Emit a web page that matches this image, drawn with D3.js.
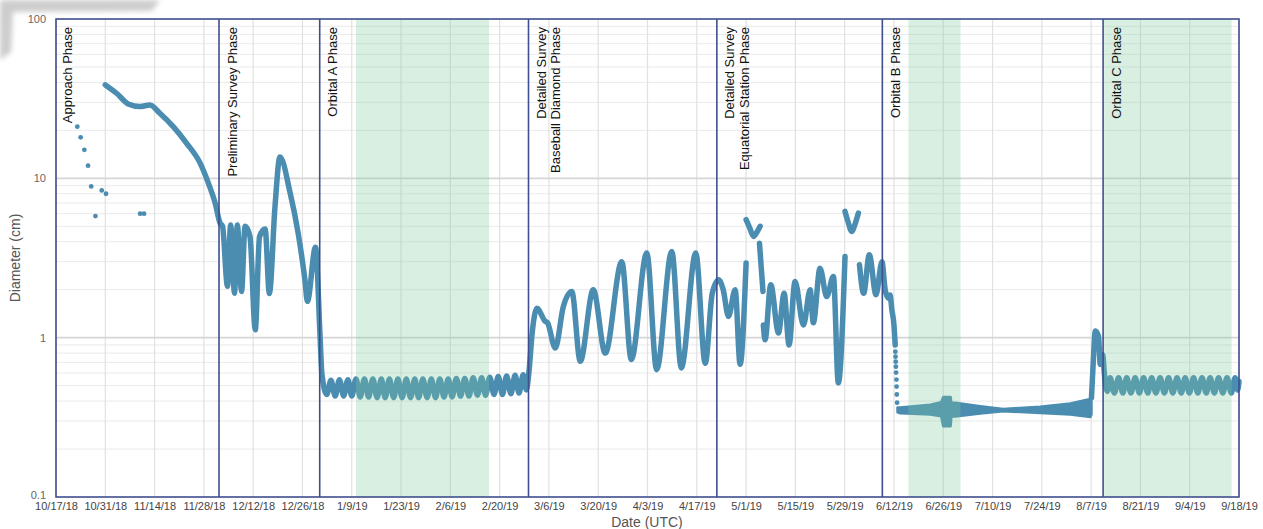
<!DOCTYPE html>
<html>
<head>
<meta charset="utf-8">
<script src="https://cdn.jsdelivr.net/npm/d3@7"></script>
<style>
  body { margin: 0; background: #fff; }
  text { font-family: "Liberation Sans", Arial, Helvetica, sans-serif; }
</style>
</head>
<body>
<div id="chart"></div>
<script>
// axis ticks
const xTickLabels = ["10/17/18", "10/31/18", "11/14/18", "11/28/18", "12/12/18", "12/26/18",
  "1/9/19", "1/23/19", "2/6/19", "2/20/19", "3/6/19", "3/20/19", "4/3/19", "4/17/19",
  "5/1/19", "5/15/19", "5/29/19", "6/12/19", "6/26/19", "7/10/19", "7/24/19", "8/7/19",
  "8/21/19", "9/4/19", "9/18/19"];
const yTickValues = [0.1, 1, 10, 100];
const yTickLabels = ["0.1", "1", "10", "100"];

// mission phases: label lines and start (days after 10/17/18)
const phaseNames = [
  ["Approach Phase"],
  ["Preliminary Survey Phase"],
  ["Orbital A Phase"],
  ["Detailed Survey", "Baseball Diamond Phase"],
  ["Detailed Survey", "Equatorial Station Phase"],
  ["Orbital B Phase"],
  ["Orbital C Phase"]
];
const phaseStarts = [0, 46.3, 74.9, 134.2, 187.7, 234.7, 297.4];

// green shaded intervals (days after 10/17/18)
const shadeStarts = [85.2, 242.1, 297.7];
const shadeEnds = [123.0, 256.9, 333.9];

// [day, diameter cm] - isolated detections during approach
const approachDots = [[6.05, 21.1], [7.0, 18.1], [8.05, 15.1], [9.1, 12.0], [10.0, 8.9],
  [11.2, 5.8], [13.0, 8.4], [14.2, 8.0], [23.9, 6.0], [25.0, 6.0]];

const approachTrack = [[14.0, 38.6], [17.2, 34.2], [20.5, 29.3], [23.9, 28.2], [26.7, 28.9],
  [29.5, 25.6], [33.3, 21.1], [37.1, 16.6], [40.9, 12.5], [43.3, 9.3], [45.2, 7.0], [46.6, 5.24]];

const preliminaryTrack = [[47.3, 5.0], [48.7, 2.1], [49.6, 5.1], [50.7, 1.9], [51.5, 5.1],
  [52.7, 1.95], [53.7, 5.0], [55.1, 4.3], [56.6, 1.12], [57.8, 4.3], [59.4, 4.8], [60.6, 1.89],
  [62.2, 6.65], [63.6, 13.6], [66.5, 8.1], [68.8, 4.5], [70.7, 2.3], [71.4, 1.69], [73.7, 3.7],
  [75.0, 1.02]];

const orbitalATrack = [[75.5, 0.6], [76.9, 0.44], [78.1, 0.54], [79.3, 0.43], [80.5, 0.545],
  [81.7, 0.43], [82.9, 0.545], [84.0, 0.43], [85.2, 0.55], [86.4, 0.425], [87.6, 0.55],
  [88.8, 0.425], [90.0, 0.55], [91.2, 0.42], [92.4, 0.55], [93.5, 0.42], [94.7, 0.55],
  [95.9, 0.42], [97.1, 0.55], [98.3, 0.42], [99.5, 0.55], [100.7, 0.42], [101.9, 0.55],
  [103.0, 0.42], [104.2, 0.55], [105.4, 0.42], [106.6, 0.55], [107.8, 0.42], [109.0, 0.55],
  [110.2, 0.425], [111.4, 0.55], [112.5, 0.425], [113.7, 0.555], [114.9, 0.43], [116.1, 0.555],
  [117.3, 0.43], [118.5, 0.56], [119.7, 0.435], [120.9, 0.56], [122.0, 0.435], [123.2, 0.565],
  [124.4, 0.44], [125.6, 0.57], [126.8, 0.44], [128.0, 0.575], [129.2, 0.445], [130.4, 0.58],
  [131.5, 0.45], [132.7, 0.585], [133.6, 0.47]];

const baseballTrack = [[134.3, 0.6], [135.3, 1.1], [136.6, 1.53], [138.9, 1.27], [139.6, 1.24],
  [141.8, 0.86], [144.1, 1.57], [146.5, 1.95], [148.9, 0.71], [152.6, 2.0], [156.0, 0.8],
  [160.7, 3.0], [163.4, 0.73], [167.8, 3.4], [170.6, 0.63], [174.9, 3.47], [177.6, 0.645],
  [181.7, 3.4], [184.4, 0.69]];

const equatorialTrackA = [[186.4, 1.9], [188.2, 2.31], [189.5, 2.0], [191.0, 1.36], [192.9, 2.0],
  [194.3, 0.68], [196.0, 2.94]];
const equatorialV1 = [[196.0, 5.5], [197.0, 4.9], [198.1, 4.32], [199.1, 4.6], [200.0, 5.0]];
const equatorialDrop = [[199.8, 3.92], [200.8, 1.95]];
const equatorialTrackB = [[200.9, 1.2], [201.4, 0.97], [203.0, 2.15], [205.2, 1.07], [206.8, 1.9],
  [208.2, 0.9], [209.9, 2.25], [212.3, 1.2], [214.2, 2.0], [215.1, 1.24], [217.0, 2.73],
  [218.9, 1.81], [220.8, 2.42], [222.2, 0.52], [224.1, 3.23]];
const equatorialV2 = [[224.1, 6.2], [225.0, 5.3], [226.0, 4.64], [227.0, 5.2], [227.9, 6.05]];

const orbitalBTrack = [[228.2, 2.87], [229.4, 1.9], [231.0, 3.32], [232.9, 1.86], [234.6, 3.0],
  [235.5, 2.0], [236.4, 1.77], [236.9, 1.85], [237.4, 1.5], [238.0, 1.2], [238.35, 0.9]];
const orbitalBDrop = [[238.4, 0.817], [238.45, 0.76], [238.5, 0.707],
  [238.55, 0.658], [238.6, 0.604], [238.7, 0.546], [238.75, 0.493], [238.8, 0.44], [238.9, 0.391]];

// Orbital B: spread of the dense points
const orbitalBDays = [239.0, 239.8, 248.3, 251.4, 252.0, 254.1, 254.3, 255.4, 262.5, 269.0, 279.5, 288.1, 293.8, 294.1];
const orbitalBLow = [0.34, 0.335, 0.329, 0.321, 0.278, 0.278, 0.32, 0.32, 0.334, 0.345, 0.337, 0.329, 0.318, 0.33];
const orbitalBHigh = [0.365, 0.365, 0.38, 0.393, 0.424, 0.424, 0.39, 0.39, 0.371, 0.357, 0.368, 0.386, 0.413, 0.40];

const orbitalCTrack = [[294.1, 0.42], [294.6, 0.7], [295.2, 1.1], [296.1, 1.02], [296.6, 0.68],
  [297.3, 0.78], [297.7, 0.62], [298.1, 0.5], [298.6, 0.46], [299.4, 0.56], [300.6, 0.45],
  [301.8, 0.56], [303.0, 0.45], [304.1, 0.56], [305.3, 0.45], [306.5, 0.56], [307.7, 0.45],
  [308.9, 0.56], [310.1, 0.45], [311.2, 0.56], [312.4, 0.45], [313.6, 0.56], [314.8, 0.45],
  [316.0, 0.56], [317.2, 0.45], [318.4, 0.56], [319.6, 0.45], [320.7, 0.56], [321.9, 0.45],
  [323.1, 0.56], [324.3, 0.45], [325.5, 0.56], [326.7, 0.45], [327.8, 0.56], [329.0, 0.45],
  [330.2, 0.56], [331.4, 0.45], [332.6, 0.56], [333.8, 0.45], [334.9, 0.56], [335.6, 0.47],
  [336.0, 0.53]];

// SVG definitions
const margin = {top: 19, right: 24, bottom: 32, left: 56};
const width = 1263 - margin.left - margin.right;
const height = 529 - margin.top - margin.bottom;
const dataColor = "#4b8cb1";
const frameColor = "#3f4e8e";

const parseTick = d3.utcParse("%m/%d/%y");
const startDate = parseTick(xTickLabels[0]);
const dayToDate = d => new Date(startDate.getTime() + d * 864e5);

const svg = d3.select("#chart").append("svg")
  .attr("width", 1263)
  .attr("height", 529);

// page shadow in the top-left corner
svg.append("defs").append("filter").attr("id", "blur")
  .append("feGaussianBlur").attr("stdDeviation", 2.5);
svg.append("path")
  .attr("d", "M0,0 L160,0 L152,11 L13,12 L11,52 L0,60 Z")
  .attr("fill", "#cdcdcd")
  .attr("filter", "url(#blur)");

const g = svg.append("g")
  .attr("transform", `translate(${margin.left}, ${margin.top})`);

const xScale = d3.scaleUtc()
  .domain([startDate, parseTick(xTickLabels[xTickLabels.length - 1])])
  .range([0, width]);

const yScale = d3.scaleLog()
  .domain([0.1, 100])
  .range([height, 0]);

const xTickDates = xTickLabels.map(parseTick);

// grid lines
const minorY = [];
[0.1, 1, 10].forEach(base => d3.range(2, 10).forEach(k => minorY.push(base * k)));
g.append("g").selectAll("line").data(minorY).join("line")
  .attr("x1", 0).attr("x2", width)
  .attr("y1", d => yScale(d)).attr("y2", d => yScale(d))
  .attr("stroke", "#eaeaea").attr("stroke-width", 1);
g.append("g").selectAll("line").data(xTickDates).join("line")
  .attr("x1", d => xScale(d)).attr("x2", d => xScale(d))
  .attr("y1", 0).attr("y2", height)
  .attr("stroke", "#e1e1e1").attr("stroke-width", 1.2);
g.append("g").selectAll("line").data([1, 10]).join("line")
  .attr("x1", 0).attr("x2", width)
  .attr("y1", d => yScale(d)).attr("y2", d => yScale(d))
  .attr("stroke", "#d6d6d6").attr("stroke-width", 1.6);

// data
const line = d3.line()
  .x(d => xScale(dayToDate(d[0])))
  .y(d => yScale(d[1]))
  .curve(d3.curveMonotoneX);

const segments = [
  approachTrack.concat(preliminaryTrack, orbitalATrack, baseballTrack, equatorialTrackA),
  equatorialV1, equatorialDrop, equatorialTrackB, equatorialV2, orbitalBTrack, orbitalCTrack
];
g.append("g").selectAll("path").data(segments).join("path")
  .attr("d", line)
  .attr("fill", "none")
  .attr("stroke", dataColor)
  .attr("stroke-width", 5.5)
  .attr("stroke-linejoin", "round")
  .attr("stroke-linecap", "round");

const bandData = orbitalBDays.map((d, i) => [d, orbitalBLow[i], orbitalBHigh[i]]);
g.append("path")
  .datum(bandData)
  .attr("d", d3.area()
    .x(d => xScale(dayToDate(d[0])))
    .y0(d => yScale(d[1]))
    .y1(d => yScale(d[2])))
  .attr("fill", dataColor)
  .attr("stroke", dataColor)
  .attr("stroke-width", 2.5)
  .attr("stroke-linejoin", "round");

g.append("g").selectAll("circle").data(approachDots.concat(orbitalBDrop)).join("circle")
  .attr("cx", d => xScale(dayToDate(d[0])))
  .attr("cy", d => yScale(d[1]))
  .attr("r", 2.4)
  .attr("fill", dataColor);

// shaded intervals drawn over the data
g.append("g").selectAll("rect").data(shadeStarts).join("rect")
  .attr("x", d => xScale(dayToDate(d)))
  .attr("y", 0)
  .attr("width", (d, i) => xScale(dayToDate(shadeEnds[i])) - xScale(dayToDate(d)))
  .attr("height", height)
  .attr("fill", "rgb(127,202,160)")
  .attr("fill-opacity", 0.3);

// phase boundaries and frame
g.append("g").selectAll("line").data(phaseStarts.slice(1)).join("line")
  .attr("x1", d => xScale(dayToDate(d))).attr("x2", d => xScale(dayToDate(d)))
  .attr("y1", 0).attr("y2", height)
  .attr("stroke", frameColor).attr("stroke-width", 1.6);
g.append("rect")
  .attr("width", width).attr("height", height)
  .attr("fill", "none")
  .attr("stroke", frameColor).attr("stroke-width", 1.6);

// phase labels
phaseNames.forEach((lines, i) => {
  const x0 = xScale(dayToDate(phaseStarts[i])) + (i === 0 ? 11 : 13);
  lines.forEach((t, j) => {
    g.append("text")
      .attr("transform", `translate(${x0 + j * 14.5}, 8) rotate(-90)`)
      .attr("text-anchor", "end")
      .attr("dominant-baseline", "central")
      .attr("font-size", "13px")
      .attr("fill", "#111")
      .text(t);
  });
});

// x-axis
const xAxis = g.append("g")
  .attr("transform", `translate(0, ${height})`)
  .call(d3.axisBottom(xScale).tickValues(xTickDates).tickSize(0).tickPadding(5)
    .tickFormat((d, i) => xTickLabels[i]));
xAxis.select(".domain").remove();
xAxis.selectAll("text")
  .attr("font-size", "11px")
  .attr("fill", "#444")
  .style("font-family", "\"Liberation Sans\", Arial, sans-serif");

// y-axis
const yAxis = g.append("g")
  .call(d3.axisLeft(yScale).tickValues(yTickValues).tickSize(0).tickPadding(10)
    .tickFormat((d, i) => yTickLabels[i]));
yAxis.select(".domain").remove();
yAxis.selectAll("text")
  .attr("font-size", "11px")
  .attr("fill", "#666")
  .style("font-family", "\"Liberation Sans\", Arial, sans-serif");
// lowest label sits just above the date labels
yAxis.selectAll(".tick text").filter(d => d === 0.1)
  .attr("dy", "0.1em");

// axis labels
g.append("text")
  .attr("x", 591)
  .attr("y", height + 30)
  .attr("text-anchor", "middle")
  .attr("font-size", "14px")
  .attr("fill", "#555")
  .text("Date (UTC)");

g.append("text")
  .attr("transform", `translate(-36, ${height / 2}) rotate(-90)`)
  .attr("text-anchor", "middle")
  .attr("font-size", "14px")
  .attr("fill", "#555")
  .text("Diameter (cm)");
</script>
</body>
</html>
